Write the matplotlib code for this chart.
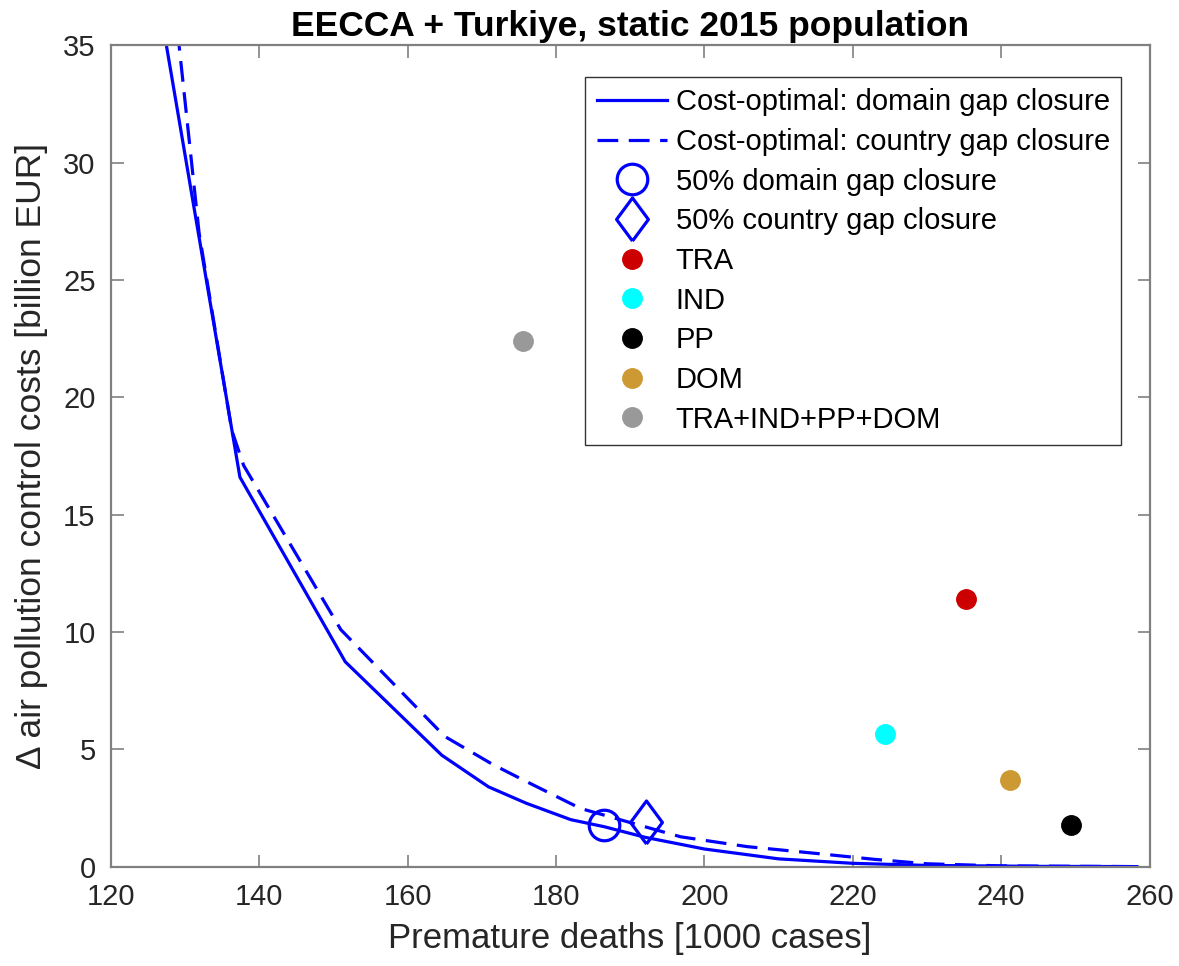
import matplotlib.pyplot as plt

plt.rcParams['font.family'] = ['Liberation Sans', 'DejaVu Sans']

# cost curves
domain_x = [124.8, 137.4, 151.6, 164.6, 170.9, 176.0, 182.0, 186.5, 192.0, 200.0, 210.0, 220.0, 230.0, 245.0, 258.3]
domain_y = [40.0, 16.6, 8.73, 4.75, 3.40, 2.70, 2.00, 1.70, 1.25, 0.75, 0.33, 0.14, 0.05, 0.01, 0.0]

country_x = [127.0, 129.2, 131.9, 136.3, 137.9, 151.0, 165.0, 171.5, 175.6, 183.3, 192.2, 196.8, 205.8, 214.8, 222.9, 230.0, 240.0, 258.0]
country_y = [40.0, 35.0, 27.0, 18.6, 17.1, 10.1, 5.55, 4.35, 3.69, 2.48, 1.68, 1.27, 0.85, 0.57, 0.31, 0.12, 0.03, 0.0]

half_domain = (186.5, 1.78)
half_country = (192.2, 1.9)

sectors = ['TRA', 'IND', 'PP', 'DOM', 'TRA+IND+PP+DOM']
sector_x = [235.2, 224.3, 249.4, 241.2, 175.5]
sector_y = [11.4, 5.65, 1.76, 3.69, 22.4]
sector_colors = ['#cc0000', '#00ffff', '#000000', '#cc9933', '#999999']

fig = plt.figure(figsize=(11.79, 9.66), dpi=100)
ax = fig.add_axes([0.094, 0.1029, 0.881, 0.85])

blue = '#0000ff'
diamond = [(0, -1), (0.74, 0), (0, 1), (-0.74, 0), (0, -1)]
ax.plot(domain_x, domain_y, '-', color=blue, lw=2.3, label='Cost-optimal: domain gap closure')
ax.plot(country_x, country_y, '--', color=blue, lw=2.3, dashes=(6.5, 3.3),
        label='Cost-optimal: country gap closure')
ax.plot(*half_domain, 'o', ms=22, mfc='none', mec=blue, mew=2.3, label='50% domain gap closure')
ax.plot(*half_country, marker=diamond, ls='none', ms=31, mfc='none', mec=blue, mew=2.3,
        label='50% country gap closure')
for name, x, y, c in zip(sectors, sector_x, sector_y, sector_colors):
    ax.plot(x, y, 'o', ms=14, color=c, mec=c, label=name)

ax.set_xlim(120, 260)
ax.set_ylim(0, 35)
ax.set_xticks(range(120, 261, 20))
ax.set_yticks(range(0, 36, 5))
ax.tick_params(direction='in', length=9, width=1.2, colors='#808080', labelcolor='#262626',
               labelsize=21, top=True, right=True)
ax.tick_params(axis='x', pad=12)
ax.tick_params(axis='y', pad=11)
for sp in ax.spines.values():
    sp.set_color('#808080')
    sp.set_linewidth(1.6)

ax.set_xlabel('Premature deaths [1000 cases]', fontsize=25, color='#262626', labelpad=8)
ax.set_ylabel('\u0394 air pollution control costs [billion EUR]', fontsize=25.5, color='#262626',
              labelpad=11)
ax.set_title('EECCA + Turkiye, static 2015 population', fontsize=25.5, fontweight='bold', pad=7)

leg = ax.legend(loc='upper right', bbox_to_anchor=(0.973, 0.962), borderaxespad=0, fontsize=21,
                handlelength=2.4, labelspacing=0.40, handletextpad=0.3, borderpad=0.4,
                fancybox=False, framealpha=1, edgecolor='#333333')
leg.get_frame().set_linewidth(1.0)

fig.savefig('out.png', dpi=100)
